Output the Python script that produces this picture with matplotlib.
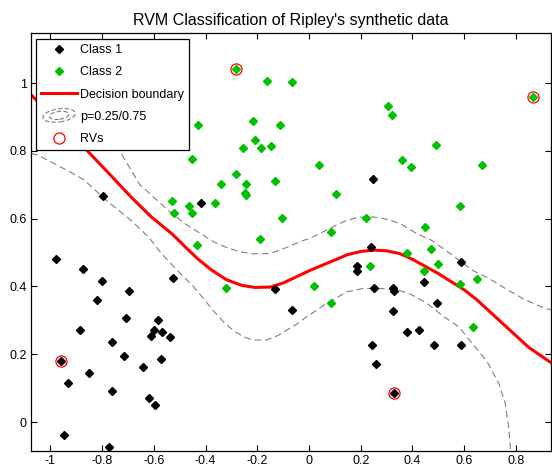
import numpy as np
import matplotlib
matplotlib.use('Agg')
import matplotlib.pyplot as plt
from matplotlib.lines import Line2D
from matplotlib.patches import Ellipse
from matplotlib.legend_handler import HandlerBase

plt.rcParams['font.family'] = ['Liberation Sans', 'DejaVu Sans']

# Klasse 1 (schwarz)
c1_x = [-0.979, -0.876, -0.802, -0.698, -0.821, -0.526, -0.709, -0.585, -0.886, -0.600,
        -0.611, -0.570, -0.538, -0.762, -0.716, -0.958, -0.571, -0.643, -0.852, -0.931,
        -0.762, -0.618, -0.597, -0.947, -0.775, -0.796, -0.419, 0.246, -0.130, -0.067,
        0.241, 0.187, 0.187, 0.253, 0.243, 0.260, 0.589, 0.445, 0.324, 0.329,
        0.494, 0.326, 0.379, 0.426, 0.484, 0.589, 0.328]
c1_y = [0.481, 0.451, 0.416, 0.386, 0.361, 0.426, 0.306, 0.301, 0.271, 0.271,
        0.255, 0.266, 0.252, 0.236, 0.196, 0.181, 0.186, 0.161, 0.146, 0.116,
        0.091, 0.071, 0.051, -0.039, -0.075, 0.668, 0.647, 0.717, 0.391, 0.331,
        0.517, 0.461, 0.446, 0.396, 0.226, 0.171, 0.471, 0.412, 0.396, 0.387,
        0.352, 0.327, 0.266, 0.272, 0.226, 0.226, 0.086]

# Klasse 2 (gruen)
c2_x = [-0.282, -0.164, -0.066, -0.218, -0.114, -0.210, -0.257, -0.184, -0.147, 0.039,
        -0.282, -0.342, -0.242, -0.132, -0.249, -0.243, 0.103, -0.362, -0.106, 0.084,
        0.220, -0.191, 0.306, 0.321, 0.491, 0.360, 0.393, 0.668, 0.865, 0.583,
        0.450, -0.431, -0.454, -0.531, -0.522, -0.466, -0.453, -0.434, -0.322, 0.019,
        0.085, 0.235, 0.378, 0.472, 0.498, 0.445, 0.583, 0.649, 0.636]
c2_y = [1.042, 1.007, 1.002, 0.888, 0.877, 0.833, 0.807, 0.807, 0.813, 0.757,
        0.731, 0.702, 0.702, 0.712, 0.677, 0.669, 0.673, 0.647, 0.602, 0.561,
        0.603, 0.541, 0.932, 0.907, 0.817, 0.773, 0.753, 0.757, 0.958, 0.637,
        0.576, 0.877, 0.776, 0.652, 0.617, 0.638, 0.617, 0.522, 0.396, 0.402,
        0.352, 0.461, 0.498, 0.511, 0.467, 0.444, 0.407, 0.421, 0.281]

# Relevanzvektoren
rv_x = [-0.282, 0.865, -0.958, 0.328]
rv_y = [1.042, 0.958, 0.181, 0.086]

# Entscheidungsgrenze (p=0.5)
bnd_x = [-1.075, -0.95, -0.86, -0.77, -0.69, -0.61, -0.53, -0.47, -0.43, -0.38, -0.32, -0.26,
         -0.21, -0.15, -0.10, -0.05, 0.00, 0.05, 0.10, 0.15, 0.20, 0.25, 0.30, 0.35, 0.40,
         0.45, 0.50, 0.55, 0.60, 0.65, 0.70, 0.75, 0.80, 0.85, 0.94]
bnd_y = [0.965, 0.87, 0.802, 0.73, 0.665, 0.605, 0.555, 0.51, 0.481, 0.45, 0.42, 0.403,
         0.397, 0.398, 0.41, 0.428, 0.446, 0.462, 0.478, 0.494, 0.503, 0.507, 0.505, 0.497, 0.48,
         0.459, 0.438, 0.414, 0.39, 0.36, 0.325, 0.29, 0.255, 0.22, 0.173]

# p=0.25 Kontur
lo_x = [-1.075, -1.05, -0.925, -0.87, -0.80, -0.77, -0.69, -0.62, -0.576, -0.538, -0.499,
        -0.448, -0.409, -0.37, -0.33, -0.293, -0.25, -0.215, -0.164, -0.12, -0.086, -0.045,
        -0.009, 0.03, 0.068, 0.11, 0.146, 0.21, 0.275, 0.347, 0.398, 0.456, 0.521, 0.579,
        0.631, 0.689, 0.734, 0.759, 0.772, 0.78]
lo_y = [0.792, 0.788, 0.738, 0.714, 0.665, 0.645, 0.596, 0.545, 0.502, 0.470, 0.439,
        0.40, 0.365, 0.328, 0.295, 0.27, 0.25, 0.242, 0.242, 0.255, 0.271, 0.29,
        0.311, 0.33, 0.35, 0.368, 0.384, 0.394, 0.394, 0.389, 0.375, 0.35, 0.311, 0.281,
        0.232, 0.178, 0.114, 0.055, -0.014, -0.086]

# p=0.75 Kontur
up_x = [-0.90, -0.80, -0.712, -0.654, -0.589, -0.538, -0.48, -0.422, -0.37, -0.32, -0.267,
        -0.215, -0.151, -0.086, -0.035, 0.004, 0.068, 0.133, 0.184, 0.23, 0.272, 0.32, 0.36,
        0.414, 0.476, 0.553, 0.631, 0.695, 0.759, 0.837, 0.914, 0.94]
up_y = [1.00, 0.89, 0.773, 0.70, 0.655, 0.62, 0.585, 0.557, 0.532, 0.515, 0.502,
        0.496, 0.497, 0.515, 0.532, 0.542, 0.566, 0.591, 0.603, 0.606, 0.603, 0.594, 0.582,
        0.557, 0.535, 0.493, 0.448, 0.424, 0.394, 0.36, 0.335, 0.33]

xticks = [-1, -0.8, -0.6, -0.4, -0.2, 0, 0.2, 0.4, 0.6, 0.8]
xtick_labels = ['-1', '-0.8', '-0.6', '-0.4', '-0.2', '0', '0.2', '0.4', '0.6', '0.8']
yticks = [0, 0.2, 0.4, 0.6, 0.8, 1]
ytick_labels = ['0', '0.2', '0.4', '0.6', '0.8', '1']

green = '#00c000'
grey = '#808080'


class ContourHandler(HandlerBase):
    # kleines Kontur-Symbol fuer die Legende
    def create_artists(self, legend, orig_handle, xdescent, ydescent, width, height, fontsize, trans):
        cx = width / 2 - xdescent
        cy = height / 2 - ydescent
        arts = []
        for s in (1.0, 0.6):
            e = Ellipse((cx, cy), width * 0.9 * s, height * 1.5 * s, angle=8,
                        fill=False, edgecolor=grey, linewidth=0.8, linestyle=(0, (4, 2)),
                        transform=trans)
            arts.append(e)
        return arts


fig = plt.figure(figsize=(5.52, 4.67), dpi=100)
ax = fig.add_axes([31 / 552, 16 / 467, 520 / 552, 418 / 467])

ax.plot(lo_x, lo_y, color=grey, linewidth=0.8, linestyle=(0, (6, 3.5)))
ax.plot(up_x, up_y, color=grey, linewidth=0.8, linestyle=(0, (6, 3.5)))
ax.plot(bnd_x, bnd_y, color='red', linewidth=2.2)
ax.plot(c1_x, c1_y, 'D', color='k', markersize=4.5, linestyle='none')
ax.plot(c2_x, c2_y, 'D', color=green, markersize=4.5, linestyle='none')
ax.plot(rv_x, rv_y, 'o', markerfacecolor='none', markeredgecolor='red',
        markersize=8, markeredgewidth=0.9, linestyle='none')

ax.set_xlim(-1.0754, 0.936)
ax.set_ylim(-0.0855, 1.1475)
ax.set_xticks(xticks)
ax.set_xticklabels(xtick_labels)
ax.set_yticks(yticks)
ax.set_yticklabels(ytick_labels)
ax.tick_params(direction='in', length=4, width=0.8, top=True, right=True,
               labelsize=9, pad=3)
for sp in ax.spines.values():
    sp.set_linewidth(0.9)

ax.set_title("RVM Classification of Ripley's synthetic data", fontsize=11.5, pad=6)

handles = [
    Line2D([], [], marker='D', color='k', markersize=4.5, linestyle='none'),
    Line2D([], [], marker='D', color=green, markersize=4.5, linestyle='none'),
    Line2D([], [], color='red', linewidth=2.2),
    Ellipse((0, 0), 1, 1),
    Line2D([], [], marker='o', markerfacecolor='none', markeredgecolor='red',
           markersize=8, markeredgewidth=0.9, linestyle='none'),
]
labels = ['Class 1', 'Class 2', 'Decision boundary', 'p=0.25/0.75', 'RVs']
leg = ax.legend(handles, labels, loc='upper left', bbox_to_anchor=(0.0096, 0.9856),
                borderaxespad=0, fontsize=9, fancybox=False, framealpha=1,
                edgecolor='k', labelspacing=0.82, handlelength=2.9, handletextpad=0.25,
                borderpad=0.4, handler_map={Ellipse: ContourHandler()})
leg.get_frame().set_linewidth(0.9)

fig.savefig('out.png', dpi=100)
